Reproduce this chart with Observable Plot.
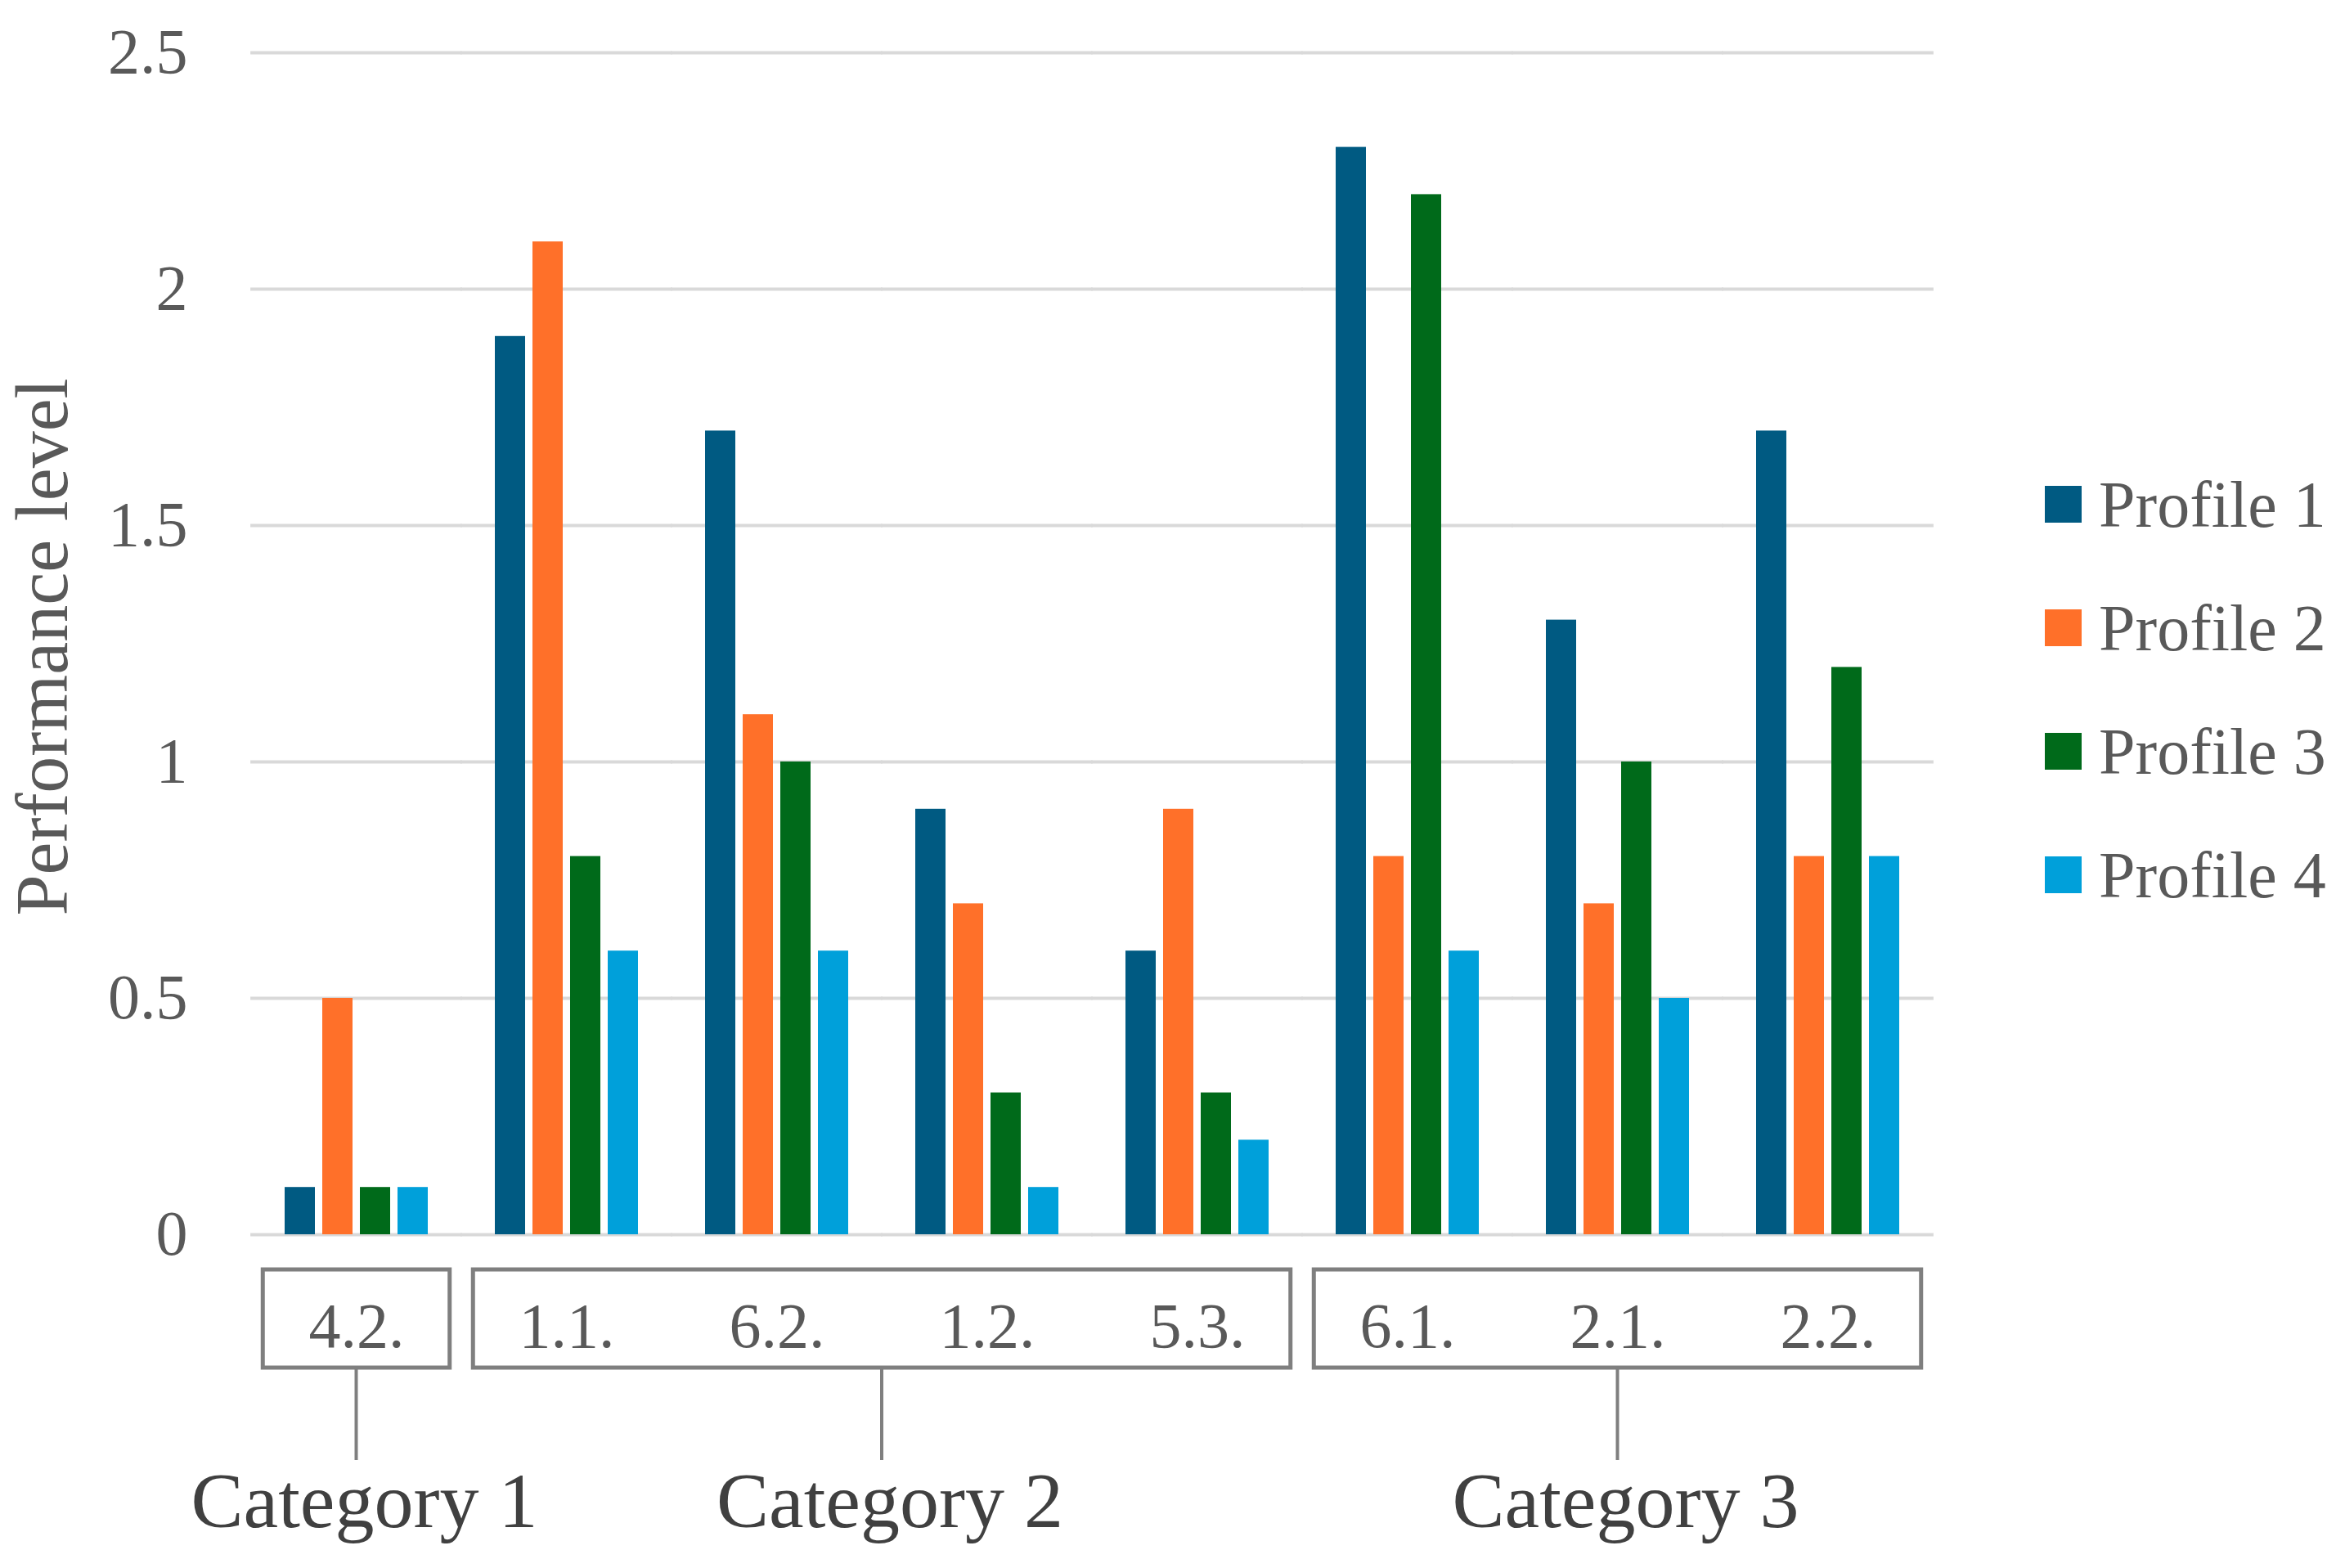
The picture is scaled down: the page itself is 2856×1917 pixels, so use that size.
<!DOCTYPE html>
<html><head><meta charset="utf-8">
<script src="https://cdn.jsdelivr.net/npm/d3@7"></script>
<script src="https://cdn.jsdelivr.net/npm/@observablehq/plot@0.6"></script>
<style>
body{margin:0;background:#fff;}
#wrap{position:relative;width:2856px;height:1917px;}
</style></head><body><div id="wrap"></div>
<script>
const groups = ["4.2.","1.1.","6.2.","1.2.","5.3.","6.1.","2.1.","2.2."];
const profiles = ["Profile 1","Profile 2","Profile 3","Profile 4"];
const profile1 = [0.1,1.9,1.7,0.9,0.6,2.3,1.3,1.7];
const profile2 = [0.5,2.1,1.1,0.7,0.9,0.8,0.7,0.8];
const profile3 = [0.1,0.8,1.0,0.3,0.3,2.2,1.0,1.2];
const profile4 = [0.1,0.6,0.6,0.1,0.2,0.6,0.5,0.8];
const colors = ["#005A82","#FF7029","#006A1A","#00A0DA"];
const yTicks = [0,0.5,1,1.5,2,2.5];
const yLabel = "Performance level";
const categories = ["Category 1","Category 2","Category 3"];
const categoryGroups = [["4.2."],["1.1.","6.2.","1.2.","5.3."],["6.1.","2.1.","2.2."]];

const series = [profile1,profile2,profile3,profile4];
const data = [];
groups.forEach((g,i)=>profiles.forEach((p,j)=>data.push({group:g,profile:p,value:series[j][i]})));

const W=2856,H=1917, mL=306, mR=491, mT=64, mB=408;
const padIn=0.31, padOut=0.155;
const step=(W-mL-mR)/(groups.length);
const ext = step*padIn/2+1;
const FONT = '"Liberation Serif", "Times New Roman", serif';

const plot = Plot.plot({
  width:W, height:H, marginLeft:mL, marginRight:mR, marginTop:mT, marginBottom:mB,
  style:{fontFamily:FONT, background:"#fff", color:"#595959"},
  fx:{domain:groups, paddingInner:padIn, paddingOuter:padOut, label:null},
  x:{domain:profiles, paddingInner:0.2, paddingOuter:0, axis:null},
  y:{domain:[0,2.5], label:null},
  color:{domain:profiles, range:colors},
  marks:[
    Plot.ruleY(yTicks, {stroke:"#d9d9d9", strokeWidth:4, insetLeft:-ext, insetRight:-ext}),
    Plot.barY(data,{fx:"group", x:"profile", y:"value", fill:"profile"}),
    Plot.axisY({ticks:yTicks, tickSize:0, tickPadding:118, fontSize:78, fill:"#595959",
      tickFormat:d=>String(d), label:null}),
    Plot.axisFx({anchor:"bottom", tickSize:0, tickPadding:82, fontSize:78, fill:"#595959", label:null})
  ]
});
document.getElementById("wrap").appendChild(plot);

const svg = d3.select(plot);
const fx = plot.scale("fx");
const bw = fx.bandwidth;
const pad = step*0.1;
const yb = H - mB;
const boxTop = yb + 43, boxBot = yb + 163, lineBot = yb + 276;
const g = svg.append("g");
categoryGroups.forEach((gs,i)=>{
  const x1 = fx.apply(gs[0]) - pad;
  const x2 = fx.apply(gs[gs.length-1]) + bw + pad;
  const cx = (x1+x2)/2;
  g.append("rect").attr("x",x1).attr("y",boxTop).attr("width",x2-x1).attr("height",boxBot-boxTop)
    .attr("fill","none").attr("stroke","#7f7f7f").attr("stroke-width",5);
  g.append("line").attr("x1",cx).attr("x2",cx).attr("y1",boxBot).attr("y2",lineBot)
    .attr("stroke","#7f7f7f").attr("stroke-width",4);
  g.append("text").attr("x",cx+10).attr("y",yb+358).attr("text-anchor","middle")
    .attr("font-family",FONT).attr("font-size",96).attr("fill","#404040").text(categories[i]);
});
// y-axis title
svg.append("text").attr("transform","translate(82,791) rotate(-90)").attr("text-anchor","middle")
  .attr("font-family",FONT).attr("font-size",90).attr("fill","#595959").text(yLabel);
// legend
const lg = svg.append("g");
profiles.forEach((p,i)=>{
  const cy = 616 + i*151;
  lg.append("rect").attr("x",2500).attr("y",cy-22).attr("width",45).attr("height",45).attr("fill",colors[i]);
  lg.append("text").attr("x",2566).attr("y",cy).attr("dy","0.35em").attr("text-anchor","start")
    .attr("font-family",FONT).attr("font-size",80).attr("fill","#595959").text(p);
});
</script></body></html>
